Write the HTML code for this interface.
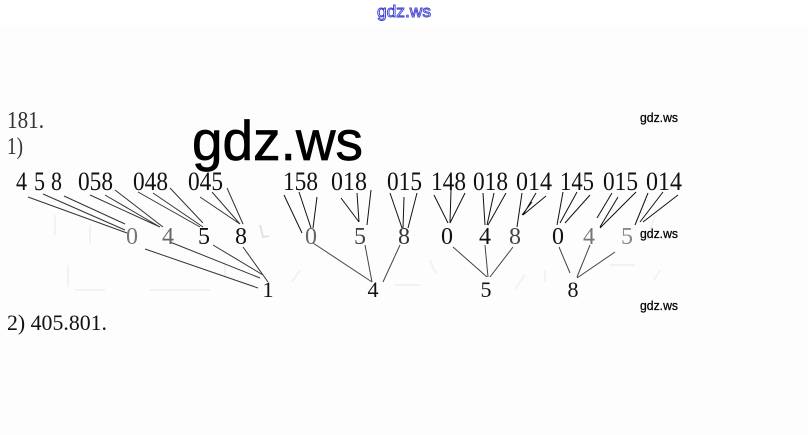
<!DOCTYPE html>
<html>
<head>
<meta charset="utf-8">
<style>
html,body{margin:0;padding:0;background:#fff;width:808px;height:435px;overflow:hidden}
svg{display:block}
.s{font-family:"Liberation Serif",serif;fill:#111}
.c{font-family:"Liberation Sans",sans-serif;fill:#000}
</style>
</head>
<body>
<svg width="808" height="435" viewBox="0 0 808 435" xmlns="http://www.w3.org/2000/svg">
<rect width="808" height="435" fill="#fff"/>
<rect y="26" width="808" height="409" fill="#fdfdfd"/>

<g stroke="#f2f2f2" stroke-width="2" fill="none">
<path d="M55 215v20M68 265v22M90 225v18M75 290h30M150 290h60M225 262v14M300 270l-8 12M395 285h25M430 260l6 14M525 275l-10 14M610 265h25M655 215l-8 25M660 270l-6 10M545 270v12"/>
<path d="M260 225l3 12 6-1" stroke="#e2e2e2"/>
</g>

<text x="377" y="17" class="c" font-size="17" textLength="54" lengthAdjust="spacingAndGlyphs" style="fill:#fff;stroke:#3c3cd0;stroke-width:.9">gdz.ws</text>

<text x="7" y="128" class="s" font-size="24" textLength="37" lengthAdjust="spacingAndGlyphs" style="fill:#333">181.</text>
<text x="7" y="154" class="s" font-size="24" textLength="16" lengthAdjust="spacingAndGlyphs" style="fill:#333">1)</text>
<text x="7" y="330" class="s" font-size="22" textLength="100" lengthAdjust="spacingAndGlyphs">2) 405.801.</text>

<g stroke="#111" stroke-width="1" fill="none">
<g stroke="#333">
<path d="M28 197L127 233M43 194L125 230M64 196L125 224M90 195L160 227M105 195L160 227M115 190L163 227M138 192L200 227M153 193L203 227M170 188L203 223M200 197L240 224M212 192L240 224M227 188L243 224"/>
<path d="M145 249L258 288M170 242L260 278M213 245L263 275M243 247L268 282"/>
</g>
<path d="M284 195L302 233M299 192L311 228M317 197L313 228M341 198L359 222M357 193L359 222M371 190L367 225M390 193L402 228M404 197L403 228M417 193L408 228M434 195L448 223M451 190L450 223M465 193L450 223M483 193L485 225M494 193L487 225M506 193L488 225M522 193L517 227M532 202L522 215M536 193L523 215M546 196L523 215"/>
<path d="M563 192L557 225M577 192L560 223M590 195L565 223M612 193L597 218M618 197L600 227M636 192L600 228M648 193L635 225M663 192L640 222M678 195L643 222"/>
<path d="M313 243L372 282M365 245L372 282M400 245L383 282M453 247L487 277M485 245L488 277M513 247L490 277M559 247L570 273M590 245L577 277M615 252L577 278" stroke="#444"/>
</g>

<g font-size="26">
<text x="16" y="190" class="s" textLength="11" lengthAdjust="spacingAndGlyphs">4</text>
<text x="34" y="190" class="s" textLength="11" lengthAdjust="spacingAndGlyphs">5</text>
<text x="51" y="190" class="s" textLength="11" lengthAdjust="spacingAndGlyphs">8</text>
<text x="78" y="190" class="s" textLength="35" lengthAdjust="spacingAndGlyphs">058</text>
<text x="133" y="190" class="s" textLength="35" lengthAdjust="spacingAndGlyphs">048</text>
<text x="188" y="190" class="s" textLength="35" lengthAdjust="spacingAndGlyphs">045</text>
<text x="283" y="190" class="s" textLength="35" lengthAdjust="spacingAndGlyphs">158</text>
<text x="331" y="190" class="s" textLength="36" lengthAdjust="spacingAndGlyphs">018</text>
<text x="387" y="190" class="s" textLength="35" lengthAdjust="spacingAndGlyphs">015</text>
<text x="431" y="190" class="s" textLength="35" lengthAdjust="spacingAndGlyphs">148</text>
<text x="473" y="190" class="s" textLength="35" lengthAdjust="spacingAndGlyphs">018</text>
<text x="516" y="190" class="s" textLength="36" lengthAdjust="spacingAndGlyphs">014</text>
<text x="560" y="190" class="s" textLength="34" lengthAdjust="spacingAndGlyphs">145</text>
<text x="603" y="190" class="s" textLength="35" lengthAdjust="spacingAndGlyphs">015</text>
<text x="646" y="190" class="s" textLength="36" lengthAdjust="spacingAndGlyphs">014</text>
</g>

<g font-size="24" text-anchor="middle">
<text x="132" y="244" class="s" style="fill:#777">0</text>
<text x="168" y="244" class="s" style="fill:#666">4</text>
<text x="204" y="244" class="s">5</text>
<text x="241" y="244" class="s">8</text>
<text x="311" y="244" class="s" style="fill:#666">0</text>
<text x="360" y="244" class="s" style="fill:#444">5</text>
<text x="404" y="244" class="s" style="fill:#333">8</text>
<text x="447" y="244" class="s">0</text>
<text x="485" y="244" class="s">4</text>
<text x="515" y="244" class="s" style="fill:#444">8</text>
<text x="558" y="244" class="s">0</text>
<text x="589" y="244" class="s" style="fill:#777">4</text>
<text x="627" y="244" class="s" style="fill:#888">5</text>
</g>

<g font-size="22" text-anchor="middle">
<text x="268" y="297" class="s">1</text>
<text x="373" y="297" class="s">4</text>
<text x="486" y="297" class="s">5</text>
<text x="573" y="297" class="s">8</text>
</g>

<text x="192" y="160" class="c" font-size="56" textLength="171" lengthAdjust="spacingAndGlyphs" style="stroke:#000;stroke-width:.7">gdz.ws</text>
<text x="640" y="122" class="c" font-size="12.5" textLength="38" lengthAdjust="spacingAndGlyphs" style="stroke:#000;stroke-width:.25">gdz.ws</text>
<text x="640" y="238" class="c" font-size="12.5" textLength="38" lengthAdjust="spacingAndGlyphs" style="stroke:#000;stroke-width:.25">gdz.ws</text>
<text x="640" y="310" class="c" font-size="12.5" textLength="38" lengthAdjust="spacingAndGlyphs" style="stroke:#000;stroke-width:.25">gdz.ws</text>
</svg>
</body>
</html>
